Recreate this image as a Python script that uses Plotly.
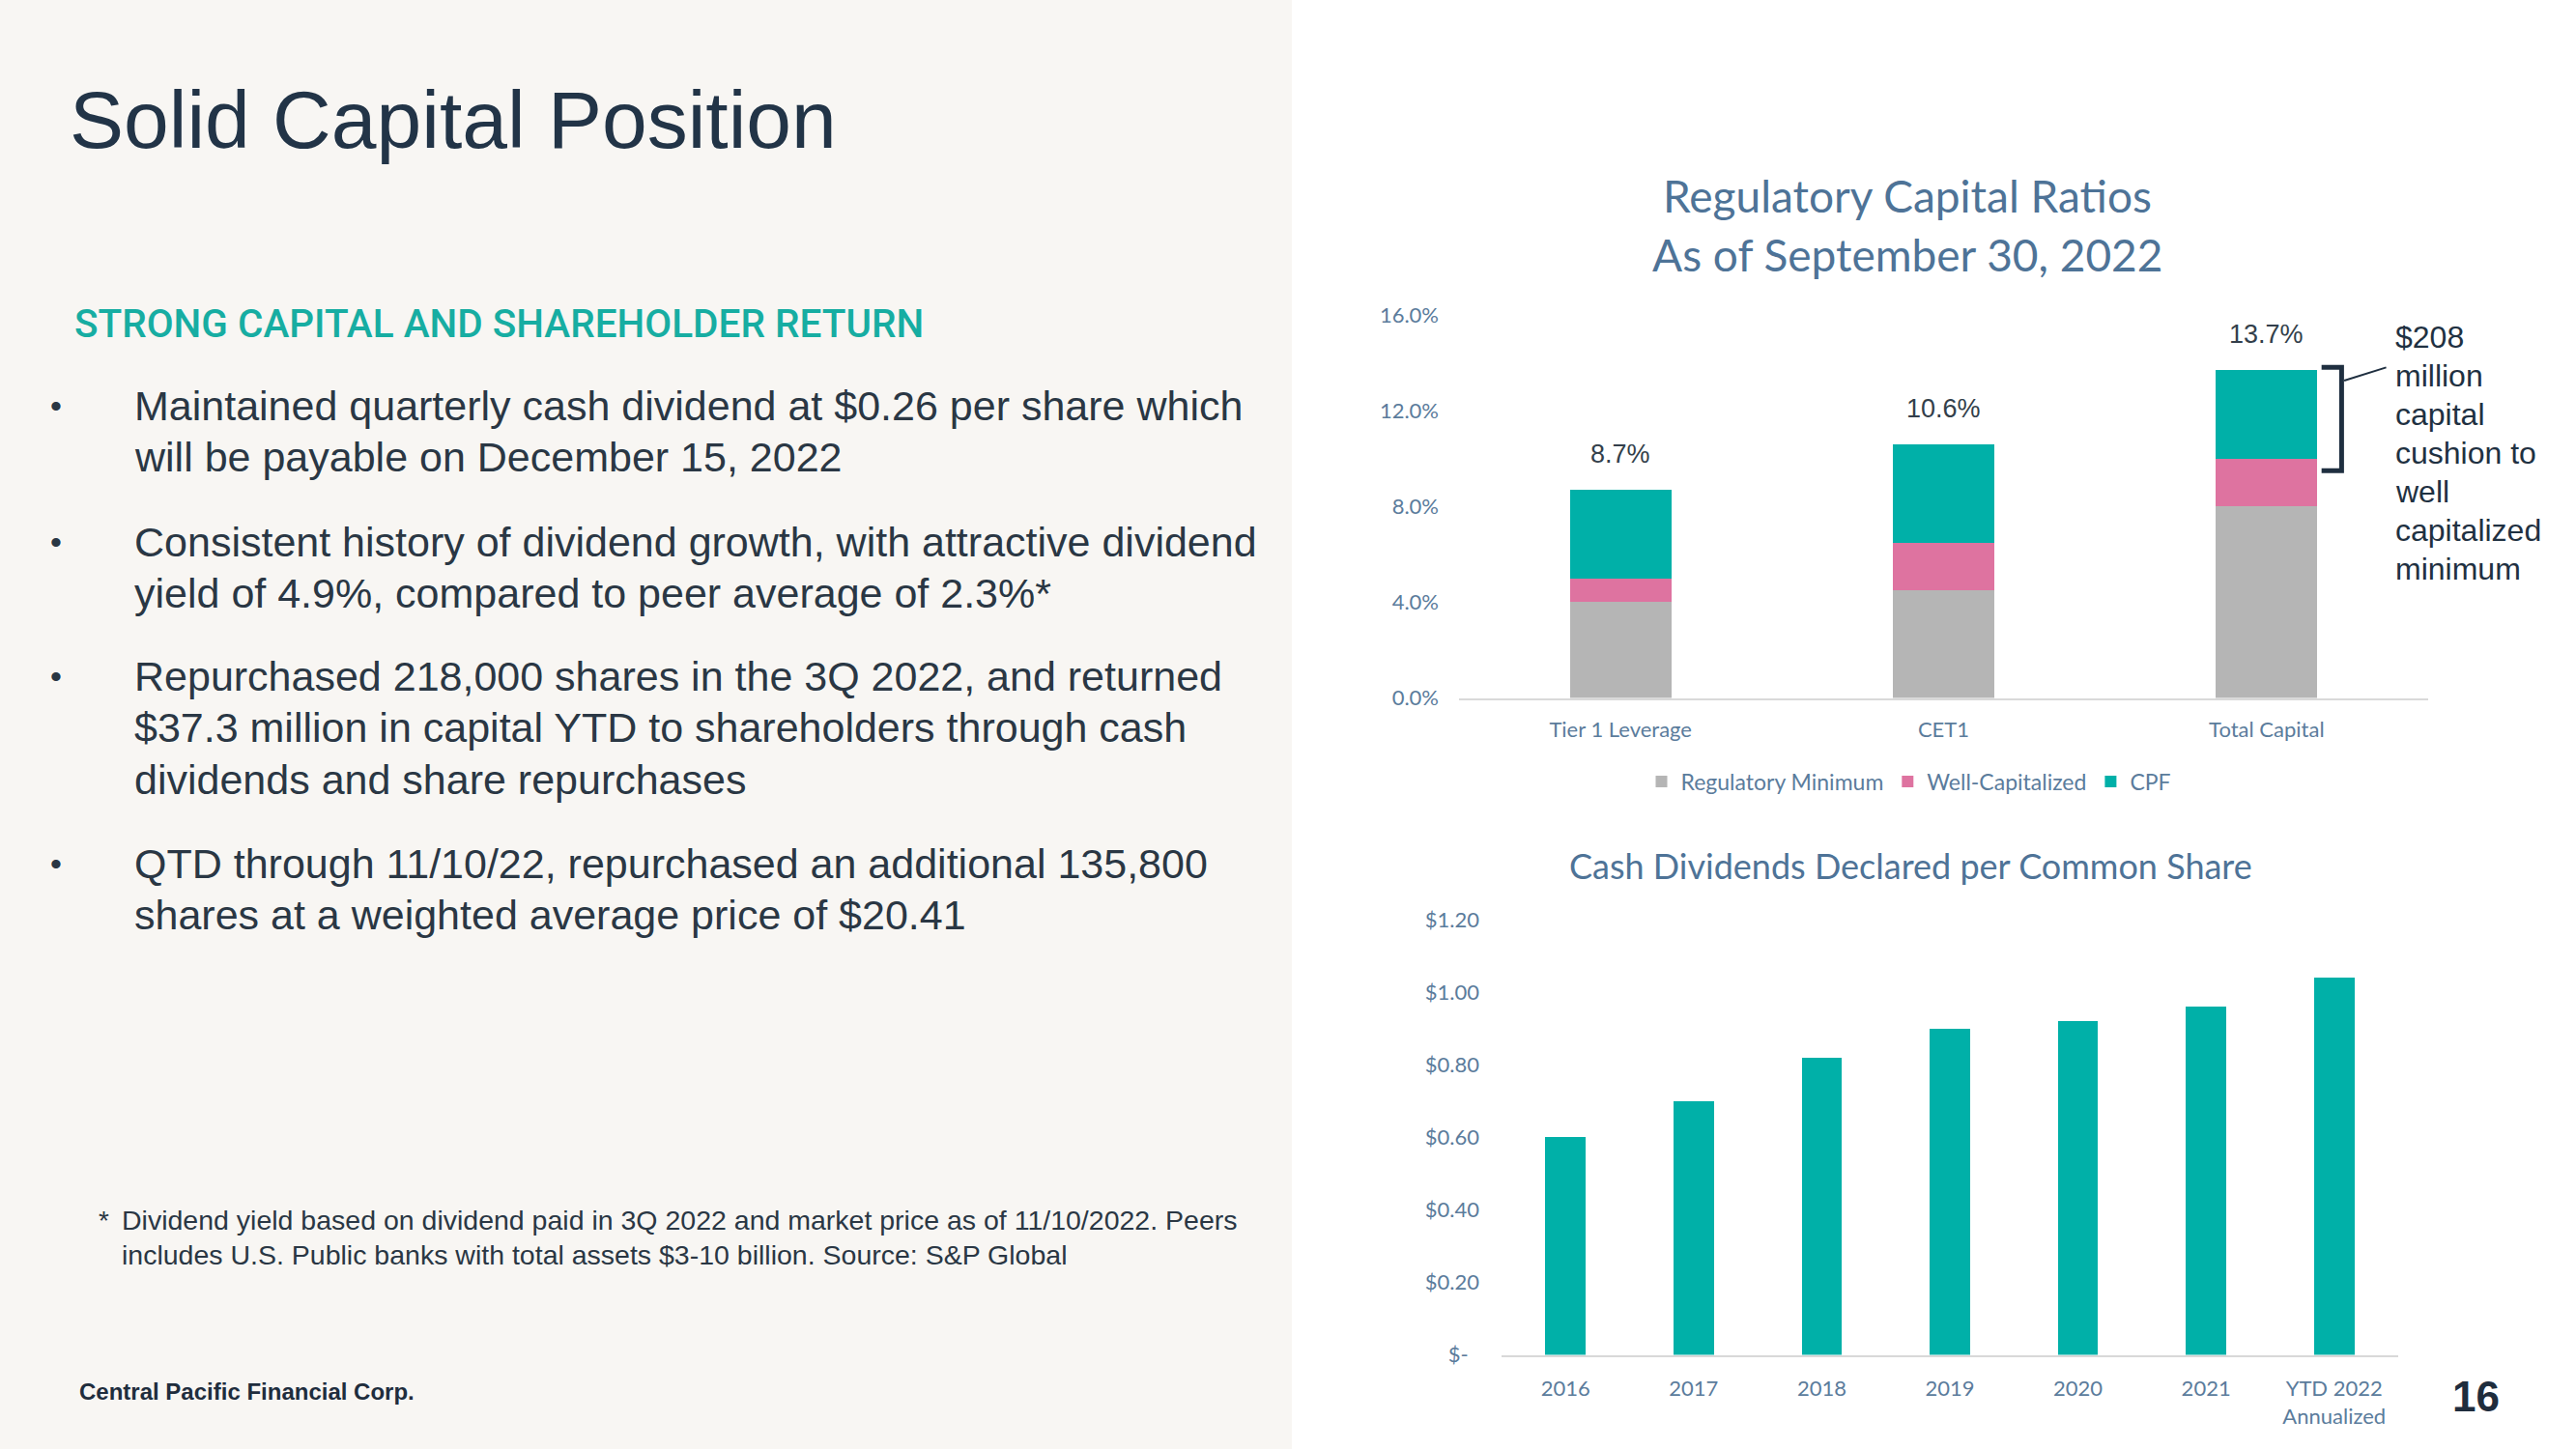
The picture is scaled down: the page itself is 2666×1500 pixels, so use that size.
import plotly.graph_objects as go

W, H = 2666, 1500

# ---------------- data ----------------
ratio_categories = ["Tier 1 Leverage", "CET1", "Total Capital"]
regulatory_minimum = [4.0, 4.5, 8.0]
well_capitalized = [1.0, 2.0, 2.0]
cpf = [3.7, 4.1, 3.7]
ratio_tickvals = [0, 4, 8, 12, 16]
ratio_ticktext = ["0.0%", "4.0%", "8.0%", "12.0%", "16.0%"]

div_categories = ["2016", "2017", "2018", "2019", "2020", "2021", "YTD 2022<br>Annualized"]
dividends = [0.60, 0.70, 0.82, 0.90, 0.92, 0.96, 1.04]
div_tickvals = [0, 0.2, 0.4, 0.6, 0.8, 1.0, 1.2]
div_ticktext = ["$-\u00a0\u00a0", "$0.20", "$0.40", "$0.60", "$0.80", "$1.00", "$1.20"]

bullets = [
    ["Maintained quarterly cash dividend at $0.26 per share which",
     "will be payable on December 15, 2022"],
    ["Consistent history of dividend growth, with attractive dividend",
     "yield of 4.9%, compared to peer average of 2.3%*"],
    ["Repurchased 218,000 shares in the 3Q 2022, and returned",
     "$37.3 million in capital YTD to shareholders through cash",
     "dividends and share repurchases"],
    ["QTD through 11/10/22, repurchased an additional 135,800",
     "shares at a weighted average price of $20.41"],
]
footnote = ["Dividend yield based on dividend paid in 3Q 2022 and market price as of 11/10/2022. Peers",
            "includes U.S. Public banks with total assets $3-10 billion. Source: S&P Global"]
cushion_text = ["$208", "million", "capital", "cushion to", "well", "capitalized", "minimum"]

# ---------------- styles ----------------
GREY = "#b5b5b5"
PINK = "#de73a0"
TEAL = "#00b0a8"
AXIS_TXT = "#5b7c9c"
TITLE_BLUE = "#4e7397"
CHART_FONT = "Lato"
SLIDE_FONT = "Liberation Sans"


def px_x(p):
    return p / W


def px_y(p):
    return 1 - p / H


fig = go.Figure()

# chart 1 stacked bars
fig.add_trace(go.Bar(x=ratio_categories, y=regulatory_minimum, name="Regulatory Minimum",
                     marker=dict(color=GREY, line=dict(width=0)), xaxis="x", yaxis="y"))
fig.add_trace(go.Bar(x=ratio_categories, y=well_capitalized, name="Well-Capitalized",
                     marker=dict(color=PINK, line=dict(width=0)), xaxis="x", yaxis="y"))
fig.add_trace(go.Bar(x=ratio_categories, y=cpf, name="CPF",
                     marker=dict(color=TEAL, line=dict(width=0)), xaxis="x", yaxis="y"))

# chart 2 bars
fig.add_trace(go.Bar(x=div_categories, y=dividends, name="Dividends", showlegend=False,
                     marker=dict(color=TEAL, line=dict(width=0)), xaxis="x2", yaxis="y2"))

annotations = []
shapes = []

# left panel background
shapes.append(dict(type="rect", xref="paper", yref="paper", x0=0, x1=px_x(1337), y0=0, y1=1,
                   fillcolor="#f8f6f3", line=dict(width=0), layer="below"))


def ann(x, y, text, size, color, family=SLIDE_FONT, xanchor="left", yanchor="middle",
        xref="paper", yref="paper", weight=None, **kw):
    font = dict(family=family, size=size, color=color)
    if weight is not None:
        font["weight"] = weight
    d = dict(x=x, y=y, xref=xref, yref=yref, text=text, showarrow=False,
             xanchor=xanchor, yanchor=yanchor, font=font)
    d.update(kw)
    annotations.append(d)


# totals above stacked bars
totals = [a + b + c for a, b, c in zip(regulatory_minimum, well_capitalized, cpf)]
for cat, t in zip(ratio_categories, totals):
    ann(cat, t, f"{t:.1f}%", 27, "#333f4b", xanchor="center", yanchor="bottom",
        xref="x", yref="y", yshift=20)

# bracket on Total Capital
top = totals[2] + 0.12
bot = regulatory_minimum[2] + well_capitalized[2] - 0.5
shapes.append(dict(type="path", xref="x", yref="y",
                   path=f"M 2.17,{top} L 2.232,{top} L 2.232,{bot} L 2.17,{bot}",
                   line=dict(color="#1f2f40", width=5)))
shapes.append(dict(type="line", xref="x", yref="y", x0=2.24, y0=top - 0.55, x1=2.37, y1=top,
                   line=dict(color="#1f2f40", width=2)))
for i, line in enumerate(cushion_text):
    ann(2.392, px_y(349 + 40 * i), line, 32, "#1f3142", xref="x")

# chart titles
ann(px_x(1974), px_y(202), "Regulatory Capital Ratios", 46, TITLE_BLUE, family=CHART_FONT, xanchor="center")
ann(px_x(1974), px_y(264), "As of September 30, 2022", 46, TITLE_BLUE, family=CHART_FONT, xanchor="center")
ann(px_x(1977), px_y(896), "Cash Dividends Declared per Common Share", 36, TITLE_BLUE,
    family=CHART_FONT, xanchor="center")

# left slide text
ann(px_x(70), px_y(124), "Solid Capital Position", 84, "#223447")
ann(px_x(75), px_y(335), "STRONG CAPITAL AND SHAREHOLDER RETURN", 40.5, "#17ada2",
    family="Roboto", weight=500)

line_ys = [[420, 473], [561, 614], [700, 753, 807], [894, 947]]
for b_lines, ys in zip(bullets, line_ys):
    ann(px_x(50), px_y(ys[0]), "•", 34, "#2a3744")
    for txt, yy in zip(b_lines, ys):
        ann(px_x(137), px_y(yy), txt, 43, "#2a3744")

ann(px_x(100), px_y(1263), "*", 28, "#2a3744")
for txt, yy in zip(footnote, [1263, 1299]):
    ann(px_x(124), px_y(yy), txt, 28.5, "#2a3744")

ann(px_x(80), px_y(1440), "<b>Central Pacific Financial Corp.</b>", 24, "#1f2d3d")
ann(px_x(2562), px_y(1445), "<b>16</b>", 44, "#1f2d3d", xanchor="center")

axis_font = dict(family=CHART_FONT, size=22, color=AXIS_TXT)

fig.update_layout(
    width=W, height=H,
    margin=dict(l=0, r=0, t=0, b=0, pad=0, autoexpand=False),
    paper_bgcolor="white",
    plot_bgcolor="rgba(0,0,0,0)",
    barmode="stack",
    bargap=0.685,
    showlegend=True,
    legend=dict(orientation="h", x=px_x(1976), xanchor="center", y=px_y(809), yanchor="middle",
                font=dict(family=CHART_FONT, size=23, color=AXIS_TXT), bgcolor="rgba(0,0,0,0)",
                traceorder="normal", itemclick=False),
    xaxis=dict(domain=[px_x(1510), px_x(2513)], anchor="y", type="category", range=[-0.5, 2.5],
               showline=True, linecolor="#d9d9d9", linewidth=2, showgrid=False, automargin=False,
               tickfont=axis_font, ticks="", ticklabelstandoff=12, fixedrange=True),
    yaxis=dict(domain=[px_y(722.5), px_y(326.4)], anchor="x", range=[0, 16], automargin=False,
               tickvals=ratio_tickvals, ticktext=ratio_ticktext, showgrid=False, zeroline=False,
               showline=False, tickfont=axis_font, ticks="", ticklabelstandoff=20, fixedrange=True),
    xaxis2=dict(domain=[px_x(1554), px_x(2482)], anchor="y2", type="category", range=[-0.5, 6.5],
                showline=True, linecolor="#d9d9d9", linewidth=2, showgrid=False, automargin=False,
                tickfont=axis_font, ticks="", ticklabelstandoff=14, fixedrange=True),
    yaxis2=dict(domain=[px_y(1402.5), px_y(952)], anchor="x2", range=[0, 1.2], automargin=False,
                tickvals=div_tickvals, ticktext=div_ticktext, showgrid=False, zeroline=False,
                showline=False, tickfont=axis_font, ticks="", ticklabelstandoff=22, fixedrange=True),
    annotations=annotations,
    shapes=shapes,
)

post = (
    "document.documentElement.style.margin='0';document.documentElement.style.padding='0';"
    "document.body.style.margin='0';document.body.style.padding='0';"
    "document.body.style.overflow='hidden';"
    "var gd=document.getElementById('{plot_id}');"
    "gd.style.position='fixed';gd.style.top='0px';gd.style.left='0px';"
)
fig.write_html("out.html", config={"displayModeBar": False}, post_script=post)
